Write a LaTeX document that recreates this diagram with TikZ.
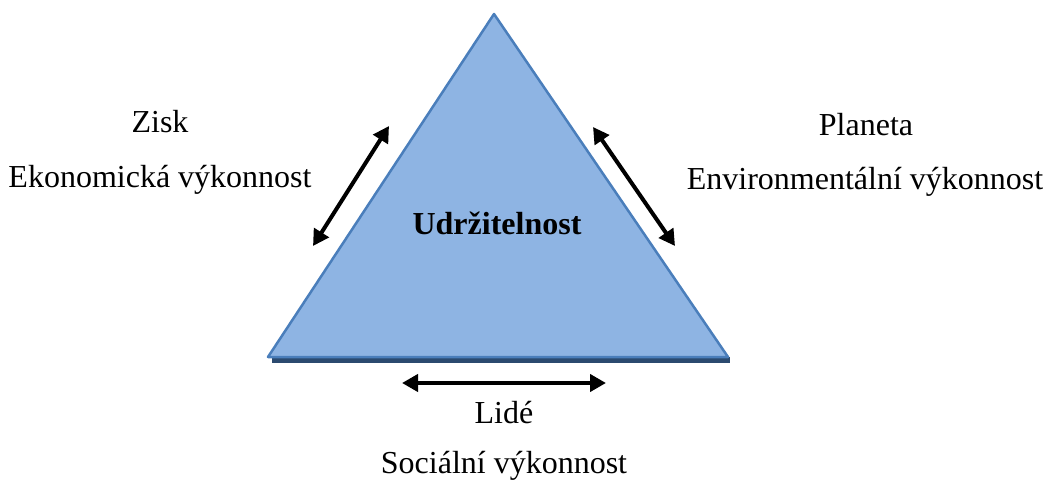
\documentclass[tikz,border=0pt]{standalone}
\usepackage{fontspec}
\setmainfont{Liberation Serif}
\usetikzlibrary{arrows.meta}
\definecolor{triFill}{HTML}{8EB4E3}
\definecolor{triEdge}{HTML}{4A7EBB}
\definecolor{triShadow}{HTML}{2B4A6F}
\begin{document}
\begin{tikzpicture}[x=1pt,y=-1pt,
  lbl/.style={font=\fontsize{32}{38}\selectfont, inner sep=0pt, anchor=base},
  dbl/.style={line width=4pt, {Triangle[length=16pt,width=17pt]}-{Triangle[length=16pt,width=17pt]}}]
  \useasboundingbox (0,0) rectangle (1048,486);
  % corners of the triangle
  \coordinate (top) at (494,14);
  \coordinate (bl) at (268,357);
  \coordinate (br) at (728,357);
  % dark strip under the base
  \fill[triShadow] (272,357) rectangle (730,363);
  \draw[triEdge, fill=triFill, line width=2.5pt, line join=round] (top) -- (bl) -- (br) -- cycle;
  \node[lbl, font=\bfseries\fontsize{32}{38}\selectfont] (centre) at (497,234) {Udržitelnost};
  % double-headed arrows along the sides
  \coordinate (la) at (313,246);
  \coordinate (lb) at (389,126);
  \coordinate (ra) at (593,127);
  \coordinate (rb) at (675,246);
  \coordinate (ba) at (402,383);
  \coordinate (bb) at (606,383);
  \draw[dbl] (la) -- (lb);
  \draw[dbl] (ra) -- (rb);
  \draw[dbl] (ba) -- (bb);
  % labels
  \node[lbl] (zisk) at (160,133) {Zisk};
  \node[lbl] (eko) at (160,188) {Ekonomická výkonnost};
  \node[lbl] (planeta) at (866,136) {Planeta};
  \node[lbl] (env) at (865,190) {Environmentální výkonnost};
  \node[lbl] (lide) at (504,423) {Lidé};
  \node[lbl] (soc) at (504,473) {Sociální výkonnost};
\end{tikzpicture}
\end{document}
